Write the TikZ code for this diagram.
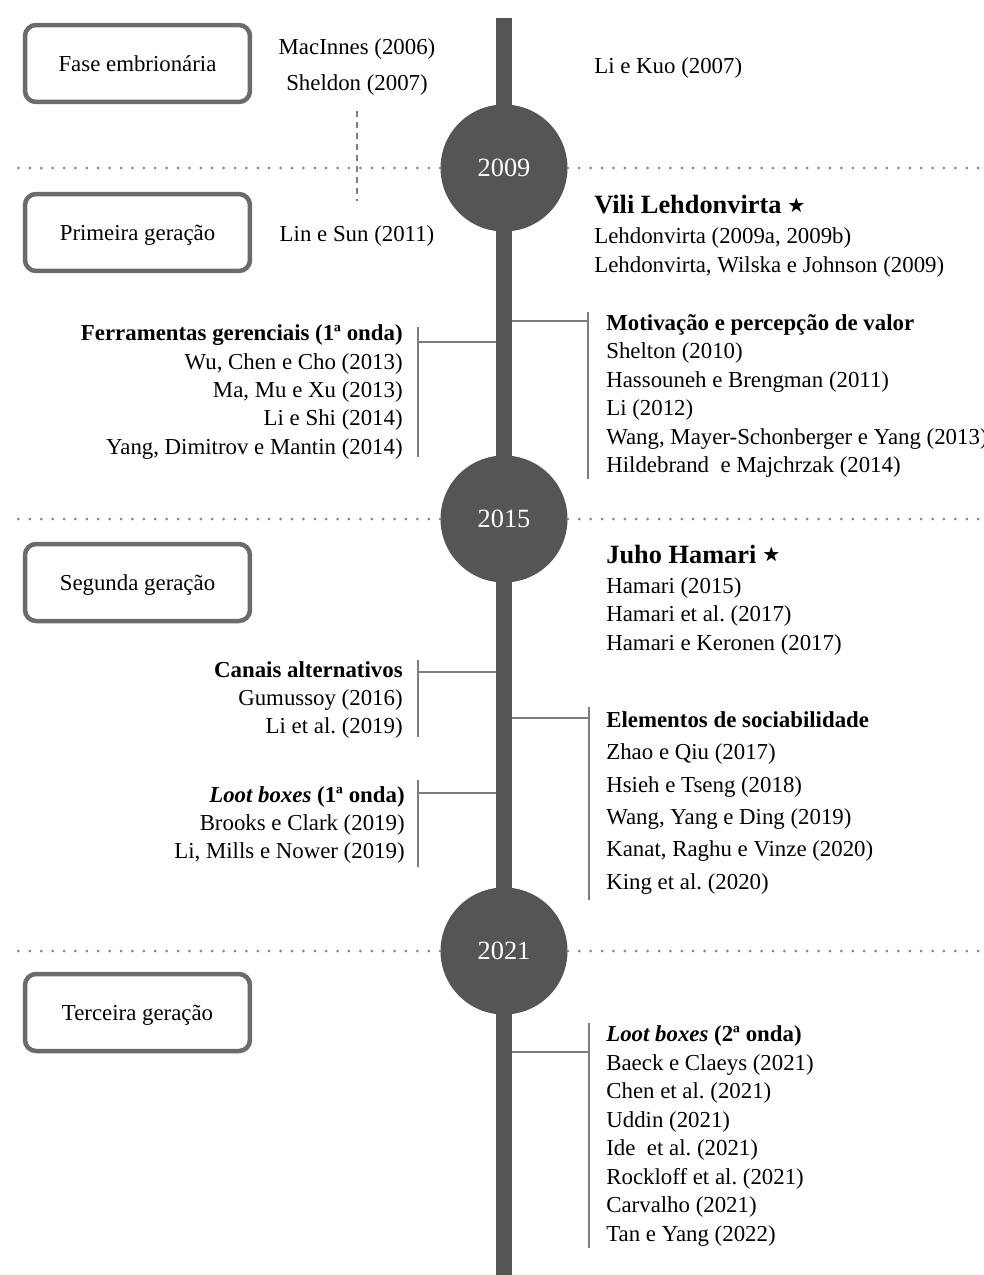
\documentclass[tikz,border=0pt]{standalone}
\usepackage{fontspec}
\setmainfont{Liberation Serif}
\usepackage{amssymb}
\usepackage{tikz}
\usetikzlibrary{positioning,calc}
\definecolor{darkline}{HTML}{555555}
\definecolor{boxline}{HTML}{6B6B6B}
\definecolor{ramoline}{HTML}{7D7D7D}
\definecolor{dotline}{HTML}{858585}
\frenchspacing

\begin{document}
\begin{tikzpicture}[
    x=0.02cm,
    y=-0.02cm,
    font=\fontsize{13}{16.2}\selectfont,
    fasebox/.style={
		rectangle,
		rounded corners=0.22cm,
		draw=boxline,
		line width=0.09cm,
		text centered,
		text height=0.36cm,
		text depth=0.04cm,
		minimum height=1.54cm,
		minimum width=4.5cm,
		fill=white
	},
	yearnode/.style={
		circle,
		fill=darkline,
		text=white,
		minimum size=2.54cm,
		inner sep=0pt,
		font=\fontsize{15}{18}\selectfont
	},
	refsr/.style={
		inner sep=0pt,
		anchor=west,
		align=left
	},
	refsl/.style={
		inner sep=0pt,
		anchor=east,
		align=right
	},
	ramo/.style={
		draw=ramoline,
		line width=0.055cm
	},
	spine/.style={
		draw=darkline,
		line width=0.31cm
	},
	sep/.style={
		draw=dotline,
		line width=0.06cm,
		line cap=round,
		dash pattern=on 0pt off 0.228cm
	},
	dashline/.style={
		draw=ramoline,
		line width=0.025cm,
		dash pattern=on 0.12cm off 0.1cm
	}
  ]
\useasboundingbox (0,0) rectangle (984,1275);

% // time axis
\coordinate (top) at (504,18);
\coordinate (bottom) at (504,1275);

% brackets (drawn below the axis)
\coordinate (ferrA) at (418,327);
\coordinate (ferrB) at (418,457);
\coordinate (ferrJ) at (418,342);
\draw [ramo] (ferrA) -- (ferrB);
\draw [ramo] (ferrJ) -- (ferrJ -| top);

\coordinate (motA) at (588,312);
\coordinate (motB) at (588,479);
\coordinate (motJ) at (588,321);
\draw [ramo] (motA) -- (motB);
\draw [ramo] (motJ) -- (motJ -| top);

\coordinate (canA) at (418,660);
\coordinate (canB) at (418,737);
\coordinate (canJ) at (418,672);
\draw [ramo] (canA) -- (canB);
\draw [ramo] (canJ) -- (canJ -| top);

\coordinate (elemA) at (589,707);
\coordinate (elemB) at (589,900);
\coordinate (elemJ) at (589,718);
\draw [ramo] (elemA) -- (elemB);
\draw [ramo] (elemJ) -- (elemJ -| top);

\coordinate (lootA) at (418,780);
\coordinate (lootB) at (418,867);
\coordinate (lootJ) at (418,793);
\draw [ramo] (lootA) -- (lootB);
\draw [ramo] (lootJ) -- (lootJ -| top);

\coordinate (lootbA) at (589,1023);
\coordinate (lootbB) at (589,1248);
\coordinate (lootbJ) at (589,1052);
\draw [ramo] (lootbA) -- (lootbB);
\draw [ramo] (lootbJ) -- (lootbJ -| top);

\draw [spine] (top) -- (bottom);

% // years
\node [yearnode] (y2009) at (504,168) {2009};
\node [yearnode] (y2015) at (504,519) {2015};
\node [yearnode] (y2021) at (504,951) {2021};

\coordinate (l2009) at (9,168);
\coordinate (r2009) at (984,168);
\coordinate (l2015) at (9,519);
\coordinate (r2015) at (984,519);
\coordinate (l2021) at (9,951);
\coordinate (r2021) at (984,951);
\draw [sep] (y2009.west) -- (l2009);
\draw [sep] (y2009.east) -- (r2009);
\draw [sep] (y2015.west) -- (l2015);
\draw [sep] (y2015.east) -- (r2015);
\draw [sep] (y2021.west) -- (l2021);
\draw [sep] (y2021.east) -- (r2021);

% // phases
\node [fasebox] (fase0) at (137.5,63.5) {Fase embrionária};
\node [fasebox] (fase1) at (137.5,232.5) {Primeira geração};
\node [fasebox] (fase2) at (137.5,582.5) {Segunda geração};
\node [fasebox] (fase3) at (137.5,1012.5) {Terceira geração};

% // references, left side
\node [inner sep=0pt, align=center, font=\fontsize{13}{20.5}\selectfont] (emb) at (357,67)
 {MacInnes (2006)\\Sheldon (2007)};
\node [inner sep=0pt] (linsun) at (357,236) {Lin e Sun (2011)};
\coordinate (dashtop) at (357,111);
\coordinate (dashbot) at (357,201);
\draw [dashline] (dashtop) -- (dashbot);

\node [refsl] (ferr) at (403,392)
 {\textbf{Ferramentas gerenciais (1ª onda)}\\
  Wu, Chen e Cho (2013)\\
  Ma, Mu e Xu (2013)\\
  Li e Shi (2014)\\
  Yang, Dimitrov e Mantin (2014)};

\node [refsl] (canais) at (403,700)
 {\textbf{Canais alternativos}\\
  Gumussoy (2016)\\
  Li et al. (2019)};

\node [refsl] (loota) at (405,825)
 {\textbf{\textit{Loot boxes} (1ª onda)}\\
  Brooks e Clark (2019)\\
  Li, Mills e Nower (2019)};

% // references, right side
\node [inner sep=0pt, anchor=west] (likuo) at (594,68) {Li e Kuo (2007)};

\node [refsr] (vili) at (594,236)
 {{\fontsize{15}{18}\selectfont\bfseries Vili Lehdonvirta \raisebox{1.8pt}{\fontsize{10}{10}\selectfont$\bigstar$}}\\[1pt]
  Lehdonvirta (2009a, 2009b)\\
  Lehdonvirta, Wilska e Johnson (2009)};

\node [refsr] (motiv) at (606,396)
 {\textbf{Motivação e percepção de valor}\\
  Shelton (2010)\\
  Hassouneh e Brengman (2011)\\
  Li (2012)\\
  Wang, Mayer-Schonberger e Yang (2013)\\
  Hildebrand\ \ e Majchrzak (2014)};

\node [refsr] (juho) at (606,600)
 {{\fontsize{15}{18}\selectfont\bfseries Juho Hamari \raisebox{1.8pt}{\fontsize{10}{10}\selectfont$\bigstar$}}\\[1pt]
  Hamari (2015)\\
  Hamari et al. (2017)\\
  Hamari e Keronen (2017)};

\node [refsr, font=\fontsize{13}{18.4}\selectfont] (elem) at (606,803)
 {\textbf{Elementos de sociabilidade}\\
  Zhao e Qiu (2017)\\
  Hsieh e Tseng (2018)\\
  Wang, Yang e Ding (2019)\\
  Kanat, Raghu e Vinze (2020)\\
  King et al. (2020)};

\node [refsr] (lootb) at (606,1136)
 {\textbf{\textit{Loot boxes} (2ª onda)}\\
  Baeck e Claeys (2021)\\
  Chen et al. (2021)\\
  Uddin (2021)\\
  Ide\ \ et al. (2021)\\
  Rockloff et al. (2021)\\
  Carvalho (2021)\\
  Tan e Yang (2022)};

\end{tikzpicture}
\end{document}
